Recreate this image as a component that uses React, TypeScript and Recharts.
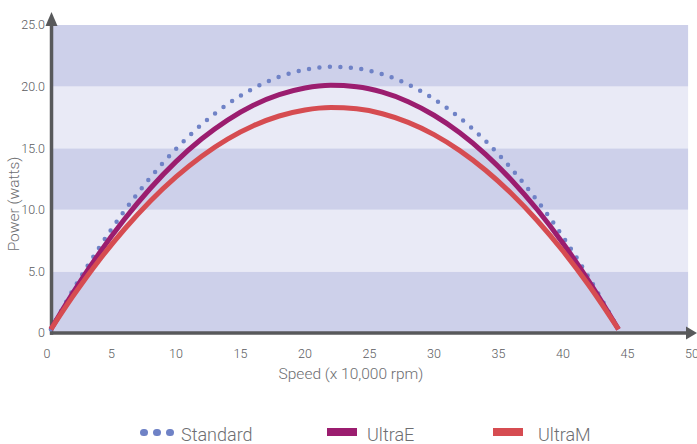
import React from 'react';
import { LineChart, Line, XAxis, YAxis, ReferenceArea, ReferenceLine, Label } from 'recharts';

// ---- data ----
const speeds = [0.3, 2, 4, 6, 8, 10, 12, 14, 16, 18, 20, 22, 24, 26, 28, 30, 32, 34, 36, 38, 40, 42, 44.3];
const standardPower = [0.3, 3.47, 6.86, 9.91, 12.6, 14.94, 16.93, 18.57, 19.85, 20.79, 21.37, 21.6, 21.47, 21.0, 20.17, 18.99, 17.46, 15.58, 13.34, 10.75, 7.81, 4.52, 0.3];
const ultraEPower = [0.3, 3.24, 6.4, 9.23, 11.73, 13.91, 15.76, 17.28, 18.48, 19.34, 19.88, 20.1, 19.98, 19.54, 18.77, 17.67, 16.25, 14.5, 12.42, 10.02, 7.28, 4.22, 0.3];
const ultraMPower = [0.3, 2.97, 5.85, 8.42, 10.7, 12.67, 14.35, 15.74, 16.82, 17.61, 18.1, 18.3, 18.19, 17.79, 17.09, 16.1, 14.8, 13.21, 11.32, 9.13, 6.65, 3.87, 0.3];
const xTicks = [0, 5, 10, 15, 20, 25, 30, 35, 40, 45, 50];
const yTicks = [0, 5, 10, 15, 20, 25];
const bandEdges = [0, 5, 10, 15, 20, 25];
const seriesNames = ['Standard', 'UltraE', 'UltraM'];

const data = speeds.map((x, i) => ({
  x,
  standard: standardPower[i],
  ultraE: ultraEPower[i],
  ultraM: ultraMPower[i],
}));

// ---- styles ----
const FONT = 'Roboto, "Liberation Sans", sans-serif';
const AXIS = '#58595b';
const TICK = '#5a5b5e';
const TITLE = '#6d6e71';
const BAND_DARK = '#cdd0ea';
const BAND_LIGHT = '#e9eaf6';
const C_STD = '#6f82c6';
const C_E = '#9b1d6f';
const C_M = '#d64c51';

const YAxisArrow = (p: any) => {
  const x = p.x1;
  const top = Math.min(p.y1, p.y2);
  const bottom = Math.max(p.y1, p.y2);
  return (
    <g>
      <line x1={x} x2={x} y1={bottom + 1.75} y2={top + 10} stroke={AXIS} strokeWidth={3.5} />
      <polygon points={`${x - 6},${top + 14} ${x + 6},${top + 14} ${x},${top}`} fill={AXIS} />
    </g>
  );
};

const XAxisArrow = (p: any) => {
  const y = p.y1;
  const left = Math.min(p.x1, p.x2);
  const right = Math.max(p.x1, p.x2);
  return (
    <g>
      <line x1={left + 3} x2={right - 8} y1={y} y2={y} stroke={AXIS} strokeWidth={3.5} />
      <polygon points={`${right - 11},${y - 6.5} ${right - 11},${y + 6.5} ${right},${y}`} fill={AXIS} />
    </g>
  );
};

const LegendItem = ({ left, kind, color, label, textLeft }: any) => (
  <>
    {kind === 'dots' ? (
      <div style={{ position: 'absolute', left, top: 428.5, display: 'flex', gap: 5.5 }}>
        {[0, 1, 2].map((k) => (
          <div key={k} style={{ width: 7.5, height: 7.5, borderRadius: 4, background: color }} />
        ))}
      </div>
    ) : (
      <div style={{ position: 'absolute', left, top: 428, width: 30, height: 8, background: color }} />
    )}
    <div
      style={{
        position: 'absolute',
        left: textLeft,
        top: 425.5,
        fontFamily: FONT,
        fontSize: 18,
        fontWeight: 300,
        lineHeight: '18px',
        color: TITLE,
        whiteSpace: 'nowrap',
      }}
    >
      {label}
    </div>
  </>
);

export default function App() {
  return (
    <div style={{ position: 'absolute', left: 0, top: 0, width: 697, height: 444, overflow: 'hidden', background: '#fff' }}>
      <LineChart width={697} height={444} data={data} margin={{ top: 12, right: 0, left: 0, bottom: 81 }}>
        <XAxis
          type="number"
          dataKey="x"
          domain={[0, 50.39]}
          ticks={xTicks}
          interval={0}
          allowDataOverflow
          axisLine={false}
          tickLine={false}
          tickSize={0}
          tickMargin={16}
          height={30}
          tick={{ fontSize: 12.5, fill: TICK, fontFamily: FONT, fontWeight: 300 }}
        >
          <Label
            content={() => (
              <text x={351} y={379} textAnchor="middle" fontFamily={FONT} fontSize={15.5} fontWeight={300} fill={TITLE}>
                Speed (x 10,000 rpm)
              </text>
            )}
          />
        </XAxis>
        <YAxis
          type="number"
          domain={[0, 26.05]}
          ticks={yTicks}
          interval={0}
          allowDataOverflow
          axisLine={false}
          tickLine={false}
          tickSize={0}
          tickMargin={2}
          width={47}
          tickFormatter={(v: number) => (v === 0 ? '0' : v.toFixed(1))}
          tick={{ fontSize: 12.5, fill: TICK, fontFamily: FONT, fontWeight: 300 }}
        >
          <Label
            content={() => (
              <text
                x={18.5}
                y={204}
                transform="rotate(-90, 18.5, 204)"
                textAnchor="middle"
                fontFamily={FONT}
                fontSize={15.5}
                fontWeight={300}
                fill={TITLE}
              >
                Power (watts)
              </text>
            )}
          />
        </YAxis>

        {bandEdges.slice(0, -1).map((from, i) => (
          <ReferenceArea
            key={from}
            x1={0.35}
            x2={49.7}
            y1={from}
            y2={bandEdges[i + 1]}
            fill={i % 2 === 0 ? BAND_DARK : BAND_LIGHT}
            fillOpacity={1}
            stroke="none"
            ifOverflow="visible"
          />
        ))}

        <ReferenceLine x={0.35} shape={YAxisArrow} ifOverflow="visible" />
        <ReferenceLine y={0} shape={XAxisArrow} ifOverflow="visible" />

        <Line
          type="monotone"
          dataKey="standard"
          name={seriesNames[0]}
          stroke={C_STD}
          strokeWidth={4.5}
          strokeDasharray="0 10.5"
          strokeLinecap="round"
          dot={false}
          isAnimationActive={false}
        />
        <Line
          type="monotone"
          dataKey="ultraE"
          name={seriesNames[1]}
          stroke={C_E}
          strokeWidth={5}
          dot={false}
          isAnimationActive={false}
        />
        <Line
          type="monotone"
          dataKey="ultraM"
          name={seriesNames[2]}
          stroke={C_M}
          strokeWidth={5}
          dot={false}
          isAnimationActive={false}
        />
      </LineChart>
      <LegendItem left={140} kind="dots" color={C_STD} label={seriesNames[0]} textLeft={181} />
      <LegendItem left={327} kind="bar" color={C_E} label={seriesNames[1]} textLeft={367} />
      <LegendItem left={493} kind="bar" color={C_M} label={seriesNames[2]} textLeft={538} />
    </div>
  );
}
